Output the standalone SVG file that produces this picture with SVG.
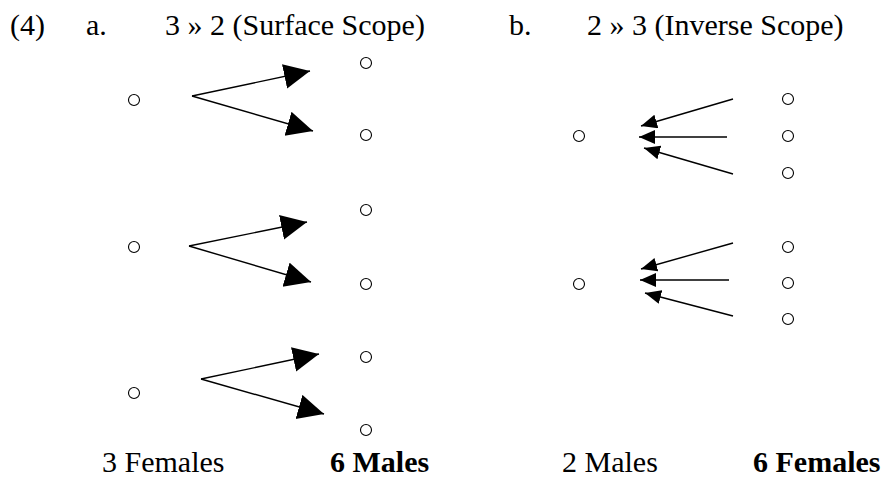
<svg xmlns="http://www.w3.org/2000/svg" width="885" height="479" viewBox="0 0 885 479">
<style>
.t { font-family: 'Liberation Serif', 'Times New Roman', 'DejaVu Serif', serif; font-size: 30px; fill: #000; }
.b { font-weight: bold; }
.node { fill: none; stroke: #000; stroke-width: 1.1; }
.edge { stroke: #000; stroke-width: 1.4; fill: none; }
.big { marker-end: url(#bigHead); }
.small { marker-end: url(#smallHead); }
</style>
<defs>
<marker id="bigHead" markerUnits="userSpaceOnUse" markerWidth="27" markerHeight="26" refX="26" refY="12.5" orient="auto" viewBox="0 0 27 26">
<path d="M0,0 L26,12.5 L0,25 z" fill="#000"/>
</marker>
<marker id="smallHead" markerUnits="userSpaceOnUse" markerWidth="17" markerHeight="15" refX="16" refY="7" orient="auto" viewBox="0 0 17 15">
<path d="M0,0 L16,7 L0,14 z" fill="#000"/>
</marker>
</defs>

<g id="titles" font-family="Liberation Serif, Times New Roman, serif">
<text class="t" x="10" y="35">(4)</text>
<text class="t" x="86" y="35">a.</text>
<text class="t" x="165" y="35">3 » 2 (Surface Scope)</text>
<text class="t" x="509" y="35">b.</text>
<text class="t" x="587" y="35">2 » 3 (Inverse Scope)</text>
</g>

<g id="a-f1"><circle class="node" cx="134" cy="100" r="5.5"/></g>
<g id="a-f2"><circle class="node" cx="134" cy="247" r="5.5"/></g>
<g id="a-f3"><circle class="node" cx="134" cy="393" r="5.5"/></g>
<g id="a-m1"><circle class="node" cx="366" cy="63" r="5.5"/></g>
<g id="a-m2"><circle class="node" cx="366" cy="135" r="5.5"/></g>
<g id="a-m3"><circle class="node" cx="366" cy="210" r="5.5"/></g>
<g id="a-m4"><circle class="node" cx="366" cy="284" r="5.5"/></g>
<g id="a-m5"><circle class="node" cx="366" cy="357" r="5.5"/></g>
<g id="a-m6"><circle class="node" cx="366" cy="430" r="5.5"/></g>

<g id="b-m1"><circle class="node" cx="579" cy="136" r="5.5"/></g>
<g id="b-m2"><circle class="node" cx="579" cy="284" r="5.5"/></g>
<g id="b-f1"><circle class="node" cx="788" cy="99" r="5.5"/></g>
<g id="b-f2"><circle class="node" cx="788" cy="136" r="5.5"/></g>
<g id="b-f3"><circle class="node" cx="788" cy="173" r="5.5"/></g>
<g id="b-f4"><circle class="node" cx="788" cy="247" r="5.5"/></g>
<g id="b-f5"><circle class="node" cx="788" cy="283" r="5.5"/></g>
<g id="b-f6"><circle class="node" cx="788" cy="319" r="5.5"/></g>

<g id="connectors">
<line class="edge big" x1="192" y1="96" x2="310" y2="71"/>
<line class="edge big" x1="192" y1="96" x2="313" y2="131"/>
<line class="edge big" x1="189" y1="246" x2="307" y2="222"/>
<line class="edge big" x1="189" y1="246" x2="311" y2="282"/>
<line class="edge big" x1="201" y1="379" x2="319" y2="354"/>
<line class="edge big" x1="201" y1="379" x2="324" y2="414"/>

<line class="edge small" x1="733" y1="99" x2="641" y2="126"/>
<line class="edge small" x1="727" y1="137" x2="639" y2="137"/>
<line class="edge small" x1="733" y1="174" x2="644" y2="148"/>
<line class="edge small" x1="733" y1="243" x2="641" y2="269"/>
<line class="edge small" x1="729" y1="280" x2="640" y2="280"/>
<line class="edge small" x1="733" y1="316" x2="645" y2="293"/>
</g>

<g id="labels" font-family="Liberation Serif, Times New Roman, serif">
<text class="t" x="102" y="472">3 Females</text>
<text class="t b" x="330" y="472">6 Males</text>
<text class="t" x="562" y="472">2 Males</text>
<text class="t b" x="753" y="472">6 Females</text>
</g>
</svg>
